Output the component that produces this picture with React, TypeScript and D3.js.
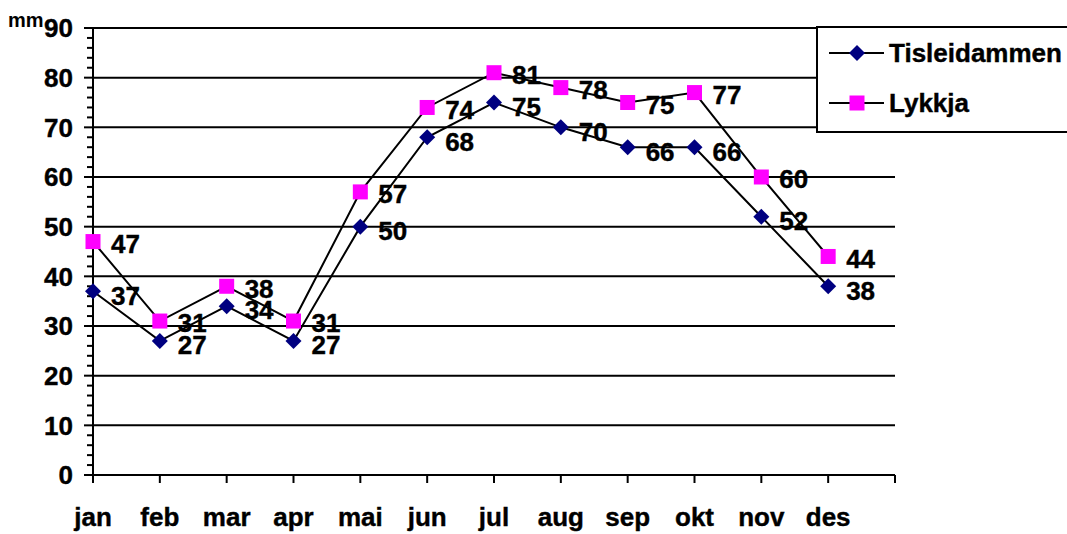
import * as d3 from "d3";

const months = ["jan", "feb", "mar", "apr", "mai", "jun", "jul", "aug", "sep", "okt", "nov", "des"];
const tisleidammen = [37, 27, 34, 27, 50, 68, 75, 70, 66, 66, 52, 38];
const lykkja = [47, 31, 38, 31, 57, 74, 81, 78, 75, 77, 60, 44];
const yTicks = [0, 10, 20, 30, 40, 50, 60, 70, 80, 90];

const W = 1067,
  H = 534;
const font = "Arial, 'Liberation Sans', sans-serif";
const fs = 26;

export default function App() {
  const left = 93,
    right = 895,
    top = 28,
    bottom = 475;
  const step = (right - left) / months.length;
  const x = (i: number) => left + i * step;
  const y = d3.scaleLinear().domain([0, 90]).range([bottom, top]);
  const line = d3
    .line<number>()
    .x((_, i) => x(i))
    .y((d) => y(d));
  const minor = d3.range(0, 91, 2).filter((v) => v % 10 !== 0);

  return (
    <svg
      width={W}
      height={H}
      style={{ position: "absolute", left: 0, top: 0, background: "white" }}
      fontFamily={font}
      fontWeight="bold"
    >
      <rect width={W} height={H} fill="white" />
      {/* gridlines */}
      {yTicks.map((t) => (
        <line key={t} x1={left} x2={right} y1={y(t)} y2={y(t)} stroke="black" strokeWidth={2} />
      ))}
      {/* y axis */}
      <line x1={left} x2={left} y1={top} y2={bottom} stroke="black" strokeWidth={2} />
      {yTicks.map((t) => (
        <g key={"t" + t}>
          <line x1={left - 9} x2={left} y1={y(t)} y2={y(t)} stroke="black" strokeWidth={2} />
          <text x={73} y={y(t)} dy="0.36em" textAnchor="end" fontSize={fs} stroke="black" strokeWidth={0.4}>
            {t}
          </text>
        </g>
      ))}
      {minor.map((t) => (
        <line key={"m" + t} x1={left - 6} x2={left} y1={y(t)} y2={y(t)} stroke="black" strokeWidth={2} />
      ))}
      <text x={8} y={27} fontSize={20}>
        mm
      </text>
      {/* x axis */}
      {d3.range(months.length + 1).map((i) => (
        <line key={"x" + i} x1={x(i)} x2={x(i)} y1={bottom} y2={bottom + 8} stroke="black" strokeWidth={2} />
      ))}
      {months.map((m, i) => (
        <text key={m} x={x(i)} y={526} textAnchor="middle" fontSize={fs} stroke="black" strokeWidth={0.4}>
          {m}
        </text>
      ))}
      {/* series */}
      <path d={line(tisleidammen) ?? ""} fill="none" stroke="black" strokeWidth={2} />
      <path d={line(lykkja) ?? ""} fill="none" stroke="black" strokeWidth={2} />
      {tisleidammen.map((v, i) => (
        <path
          key={"d" + i}
          d="M0,-8L8,0L0,8L-8,0Z"
          transform={`translate(${x(i)},${y(v)})`}
          fill="#000080"
        />
      ))}
      {lykkja.map((v, i) => (
        <rect key={"s" + i} x={x(i) - 7.5} y={y(v) - 7.5} width={15} height={15} fill="#FF00FF" />
      ))}
      {tisleidammen.map((v, i) => (
        <text key={"lt" + i} x={x(i) + 18} y={y(v) + 4} dy="0.36em" fontSize={fs} stroke="black" strokeWidth={0.4}>
          {v}
        </text>
      ))}
      {lykkja.map((v, i) => (
        <text key={"ll" + i} x={x(i) + 18} y={y(v) + 2} dy="0.36em" fontSize={fs} stroke="black" strokeWidth={0.4}>
          {v}
        </text>
      ))}
      {/* legend */}
      <rect x={817} y={27} width={260} height={105} fill="white" stroke="black" strokeWidth={2} />
      <line x1={829} x2={884} y1={53} y2={53} stroke="black" strokeWidth={2} />
      <path d="M0,-8L8,0L0,8L-8,0Z" transform="translate(857,53)" fill="#000080" />
      <text x={889} y={53} dy="0.36em" fontSize={fs} stroke="black" strokeWidth={0.4}>
        Tisleidammen
      </text>
      <line x1={829} x2={884} y1={103} y2={103} stroke="black" strokeWidth={2} />
      <rect x={849.5} y={95.5} width={15} height={15} fill="#FF00FF" />
      <text x={889} y={103} dy="0.36em" fontSize={fs} stroke="black" strokeWidth={0.4}>
        Lykkja
      </text>
    </svg>
  );
}
